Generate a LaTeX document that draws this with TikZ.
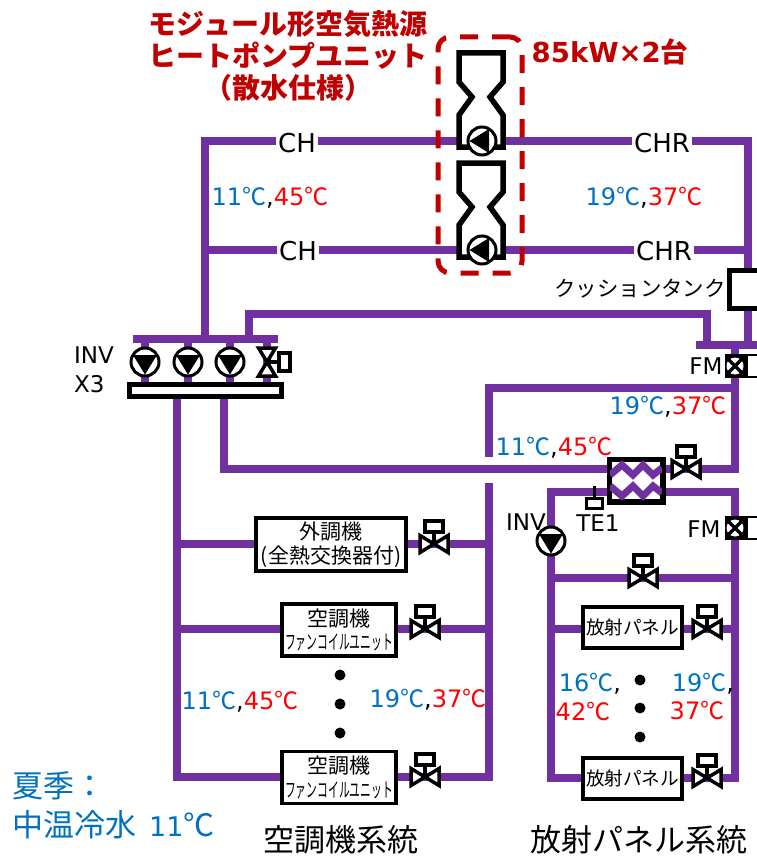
\documentclass[tikz,border=0pt]{standalone}
\usepackage{fontspec}
\setmainfont{DejaVu Sans}
\newfontfamily\jpfont{Noto Sans CJK JP}
\definecolor{pipecol}{HTML}{7030A0}
\definecolor{titlered}{HTML}{C00000}
\definecolor{tempblue}{HTML}{0070C0}
\definecolor{tempred}{HTML}{FF0000}
\newcommand{\dC}{{\jpfont ℃}}
\newcommand{\bluet}[1]{{\color{tempblue}#1\dC}}
\newcommand{\redt}[1]{{\color{tempred}#1\dC}}
\tikzstyle{pipe}=[draw=pipecol,line width=7.5pt,line cap=rect]
\tikzstyle{zigpipe}=[draw=pipecol,line width=7pt,line join=miter]
\tikzstyle{device}=[draw=black,fill=white,line width=3.5pt,inner sep=0pt,align=center]
\tikzstyle{pipelabel}=[fill=white,inner sep=2pt,font=\fontsize{26}{28}\selectfont]
\tikzstyle{plainlabel}=[inner sep=0pt,font=\fontsize{23}{25}\selectfont]
\tikzstyle{temp}=[inner sep=0pt,font=\fontsize{24}{26}\selectfont]
\tikzstyle{dotnode}=[circle,fill=black,minimum size=11pt,inner sep=0pt]
\tikzstyle{sysname}=[inner sep=0pt,font=\jpfont\fontsize{31}{33}\selectfont]
\tikzset{
  pump/.pic={
    \draw[fill=white,line width=3pt] (0,0) circle (14);
    \fill[black] (-12,-7) -- (12,-7) -- (0,12.5) -- cycle;
  },
  valve/.pic={
    \draw[fill=white,line width=3.5pt,line join=miter] (-14,-8.5) -- (14,8.5) -- (14,-8.5) -- (-14,8.5) -- cycle;
    \draw[line width=3.5pt] (0,0) -- (0,-12);
    \draw[fill=white,line width=4pt] (-9,-23) rectangle (9,-12);
  },
  heatpump/.pic={
    \draw[fill=white,line width=5.5pt,line join=miter] (-10,94) -- (-22,94) -- (-22,62) -- (-9,44) -- (-22,29) -- (-22,0)
      -- (22,0) -- (22,29) -- (9,44) -- (22,62) -- (22,94) -- (10,94);
  },
  flowmeter/.pic={
    \fill[black] (-10,-12) rectangle (11,12);
    \fill[white] (0,0) circle (8.5);
    \draw[line width=3.5pt] (-7,-7) -- (7,7) (-7,7) -- (7,-7);
    \draw[line width=2pt] (22,-11) -- (12,-11) -- (12,11) -- (22,11);
  }
}
\begin{document}
\begin{tikzpicture}[x=1pt,y=-1pt]
    \useasboundingbox (0,0) rectangle (757,856);

    % First the pipe junctions
    \foreach \pos/\name in {{(205,141)/cha}, {(748,141)/chb}, {(205,250)/chc}, {(748,250)/chd}, {(205,339)/hdrc},
        {(137,339)/hdra}, {(274,339)/hdrb}, {(249,339)/bya}, {(249,314)/byb}, {(707,314)/byc}, {(707,345)/byd},
        {(748,345)/tke}, {(700,345)/fma}, {(757,345)/fmb}, {(735,345)/fmc}, {(735,388)/rta}, {(735,469)/rtb},
        {(489,388)/rtc}, {(489,453)/rtd}, {(489,487)/rte}, {(489,777)/rtf},
        {(177,398)/spa}, {(177,777)/spb}, {(224,398)/spc}, {(224,469)/spd},
        {(551,492)/sca}, {(735,492)/scb}, {(551,778)/scc}, {(735,778)/scd},
        {(551,578)/sce}, {(735,578)/scf}, {(551,629)/scg}, {(735,629)/sch},
        {(177,544)/oaa}, {(489,544)/oab}, {(177,629)/aha}, {(489,629)/ahb},
        {(145,339)/pua}, {(145,390)/pub}, {(188,339)/puc}, {(188,390)/pud},
        {(230,339)/pue}, {(230,390)/puf}, {(267,339)/pug}, {(267,390)/puh}}
        \path \pos coordinate (\name);

    % Connect junctions with pipes
    \foreach \source/ \dest in {cha/chb, chc/chd, cha/hdrc, chb/tke, hdra/hdrb, bya/byb, byb/byc, byc/byd,
        fma/fmb, fmc/rtb, rta/rtc, rtc/rtd, rte/rtf, spa/spb, spc/spd, spd/rtb, spb/rtf,
        sca/scb, sca/scc, scb/scd, scc/scd, sce/scf, scg/sch, oaa/oab, aha/ahb,
        pua/pub, puc/pud, pue/puf, pug/puh}
        \path[pipe] (\source) -- (\dest);

    % Heat pump modules
    \pic (unita) at (481,53) {heatpump};
    \pic (unitb) at (481,163) {heatpump};
    \pic[rotate=-90] (pumpa) at (482,141) {pump};
    \pic[rotate=-90] (pumpb) at (482,250) {pump};
    \node[draw=titlered,line width=5pt,rounded corners=12pt,dash pattern=on 18pt off 14pt,minimum width=84pt,minimum height=236pt,inner sep=0pt] (hpgroup) at (480,155) {};

    % Pump header
    \node[device,line width=5pt,minimum width=152pt,minimum height=12pt] (hdrbar) at (205.5,390.5) {};
    \foreach \pos/\name in {{(145,362)/pri1}, {(188,362)/pri2}, {(230,362)/pri3}, {(551,541)/pri4}}
        \path \pos pic (\name) {pump};
    \pic[rotate=-90] (bypvalve) at (267,362) {valve};

    % Cushion tank, flow meters
    \fill[white] (729,270) rectangle (757,308);
    \draw[line width=5pt] (757,270) -- (729,270) -- (729,308) -- (757,308);
    \pic (fmone) at (735,366) {flowmeter};
    \pic (fmtwo) at (735,528) {flowmeter};

    % Heat exchanger
    \node[device,minimum width=52pt,minimum height=41pt] (hx) at (636,480.5) {};
    \path[zigpipe] (610,475) -- (622,465) -- (633,475) -- (643,465) -- (653,475) -- (662,468);
    \path[zigpipe] (610,486) -- (622,496) -- (633,486) -- (643,496) -- (653,486) -- (662,493);
    \draw[line width=3.5pt] (hx.north west) rectangle (hx.south east);
    \node[device,line width=3pt,minimum width=16pt,minimum height=10pt] (tebox) at (594,503) {};
    \coordinate (tetop) at (594,486);
    \draw[line width=3pt] (tebox) -- (tetop);

    % Terminal units and their valves
    \node[device,minimum width=150pt,minimum height=53pt,font=\jpfont] (oahu) at (331,544.5) {{\fontsize{21}{24}\selectfont 外調機}\\[3pt]{\fontsize{21}{24}\selectfont (全熱交換器付)}};
    \node[device,minimum width=114pt,minimum height=52pt,font=\jpfont] (ahua) at (339,630) {{\fontsize{21}{24}\selectfont 空調機}\\[5pt]\scalebox{0.54}[1]{\fontsize{20}{22}\selectfont ファンコイルユニット}};
    \node[device,minimum width=114pt,minimum height=52pt,font=\jpfont] (ahub) at (339,777.5) {{\fontsize{21}{24}\selectfont 空調機}\\[5pt]\scalebox{0.54}[1]{\fontsize{20}{22}\selectfont ファンコイルユニット}};
    \node[device,minimum width=99pt,minimum height=41pt,font=\jpfont\fontsize{18.6}{20}\selectfont] (pana) at (632.5,627.5) {放射パネル};
    \node[device,minimum width=99pt,minimum height=41pt,font=\jpfont\fontsize{18.6}{20}\selectfont] (panb) at (632.5,778.5) {放射パネル};
    \foreach \pos/\name in {{(434,544)/vla}, {(425,629)/vlb}, {(425,777)/vlc}, {(643,578)/vld}, {(707,629)/vle}, {(707,778)/vlf}, {(686,469)/vlg}}
        \path \pos pic (\name) {valve};

    % Dots between repeated units
    \foreach \pos/\name in {{(340,675)/dota}, {(340,704)/dotb}, {(340,733)/dotc}, {(640,680)/dotd}, {(640,708)/dote}, {(640,737)/dotf}}
        \node[dotnode] (\name) at \pos {};

    % Pipe labels
    \node[pipelabel] (cha1) at (297,143) {CH};
    \node[pipelabel] (cha2) at (298,251) {CH};
    \node[pipelabel] (chr1) at (662,143) {CHR};
    \node[pipelabel] (chr2) at (664,251) {CHR};

    % Temperatures
    \foreach \pos/\name/\low/\high in {{(270,198)/tmpa/11/45}, {(644,198)/tmpb/19/37}, {(668,407)/tmpc/19/37},
        {(554,448)/tmpd/11/45}, {(240,702)/tmpe/11/45}, {(428,700)/tmpf/19/37}}
        \node[temp] (\name) at \pos {\bluet{\low},\redt{\high}};
    \node[temp] (tmpg) at (590,684) {\bluet{16},};
    \node[temp] (tmph) at (583,711) {\redt{42}};
    \node[temp] (tmpi) at (703,684) {\bluet{19},};
    \node[temp] (tmpj) at (697,711) {\redt{37}};

    % Other texts
    \node[inner sep=0pt,text=titlered,align=center,font=\jpfont\bfseries\fontsize{28}{32}\selectfont] (title) at (288,56) {モジュール形空気熱源\\ヒートポンプユニット\\（散水仕様）};
    \node[inner sep=0pt,text=titlered,font=\bfseries\fontsize{27.5}{29}\selectfont] (capacity) at (610,52) {85kW×2{\jpfont 台}};
    \node[inner sep=0pt,font=\jpfont\fontsize{21.4}{23}\selectfont] (tanklabel) at (640,289) {クッションタンク};
    \node[inner sep=0pt,align=left,font=\fontsize{23}{29}\selectfont,anchor=west] (invlabel) at (74,370) {INV\\X3};
    \node[plainlabel] (fmlabela) at (706,366) {FM};
    \node[plainlabel] (fmlabelb) at (704,529) {FM};
    \node[plainlabel] (invlabelb) at (526,522) {INV};
    \node[plainlabel] (telabel) at (598,523) {TE1};
    \node[inner sep=0pt,anchor=west,text=tempblue,align=left,font=\jpfont\fontsize{31}{39}\selectfont] (season) at (12,805) {夏季：\\中温冷水\hspace{13pt}{\rmfamily\fontsize{27}{39}\selectfont 11}℃};
    \node[sysname] (sysa) at (341,840) {空調機系統};
    \node[sysname] (sysb) at (639,840) {放射パネル系統};
\end{tikzpicture}
\end{document}
